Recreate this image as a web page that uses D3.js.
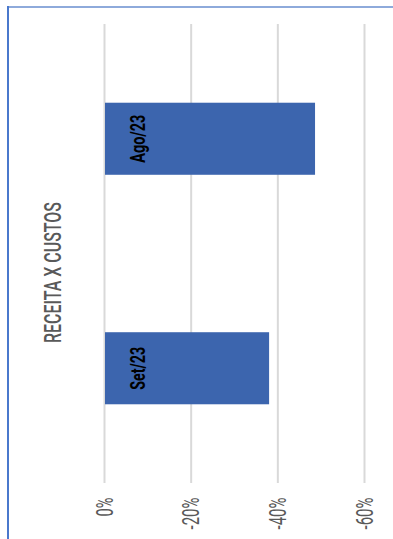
<!DOCTYPE html>
<html><head><meta charset="utf-8">
<script src="https://cdn.jsdelivr.net/npm/d3@7"></script>
<style>html,body{margin:0;padding:0;background:#fff;}svg{display:block;}</style>
</head><body>
<svg id="c" width="393" height="539"></svg>
<script>
const categories = ["Ago/23", "Set/23"];
const values = [-0.487, -0.381];
const tickValues = [0, -0.2, -0.4, -0.6];
const title = "RECEITA X CUSTOS";

(function () {
const svg = d3.select("#c");
const W = 393, H = 539;
const plotTop = 24, plotBottom = 483;

// frame lines
svg.append("line").attr("x1", 8).attr("x2", W).attr("y1", 7).attr("y2", 7)
  .attr("stroke", "#8eaadb").attr("stroke-width", 2);
svg.append("line").attr("x1", 8).attr("x2", 8).attr("y1", 6).attr("y2", H)
  .attr("stroke", "#4a78cc").attr("stroke-width", 2);

const x = d3.scaleLinear().domain([0, -0.6]).range([104, 364]);
const y = d3.scaleBand().domain(categories).range([plotTop, plotBottom])
  .paddingInner(0.686).paddingOuter(0.343);

// squeeze rotated text along its reading direction to a target length
function squeeze(sel, base, targetLen) {
  sel.each(function () {
    const t = d3.select(this);
    t.attr("transform", base);
    const len = this.getComputedTextLength();
    const L = typeof targetLen === "function" ? targetLen(t.text()) : targetLen;
    t.attr("transform", base + ` scale(${(L / len).toFixed(3)},1)`);
  });
}

const axis = d3.axisBottom(x).tickValues(tickValues)
  .tickSize(-(plotBottom - plotTop))
  .tickFormat(d => Math.round(d * 100) + "%");
const ag = svg.append("g").attr("transform", `translate(0,${plotBottom})`).call(axis);
ag.select(".domain").remove();
ag.selectAll(".tick line").attr("stroke", "#d9d9d9").attr("stroke-width", 2);
const tt = ag.selectAll(".tick text")
  .attr("x", 0).attr("y", 0).attr("dy", "0.36em")
  .attr("text-anchor", "end")
  .attr("fill", "#595959")
  .style("font-family", "Roboto, 'Liberation Sans', sans-serif")
  .style("font-size", "23px");
squeeze(tt, "translate(0,14.5) rotate(-90)", s => s.length === 2 ? 19 : 32);

// bars
svg.append("g").selectAll("rect").data(categories).join("rect")
  .attr("x", (d, i) => Math.min(x(0), x(values[i])) + 1)
  .attr("width", (d, i) => Math.abs(x(values[i]) - x(0)) - 1)
  .attr("y", d => y(d))
  .attr("height", y.bandwidth())
  .attr("fill", "#3c65ae");

// bar labels
const bl = svg.append("g").selectAll("text").data(categories).join("text")
  .attr("text-anchor", "middle")
  .attr("dy", "0.36em")
  .attr("fill", "#000")
  .style("font-family", "Roboto, 'Liberation Sans', sans-serif")
  .style("font-weight", "bold")
  .style("font-size", "21px")
  .text(d => d);
bl.each(function (d) {
  const base = `translate(${x(0) + 33.5},${y(d) + y.bandwidth() / 2}) rotate(-90)`;
  squeeze(d3.select(this), base, d.startsWith("Ago") ? 48 : 43);
});

// title
const tl = svg.append("text")
  .attr("text-anchor", "middle")
  .attr("dy", "0.36em")
  .attr("fill", "#595959")
  .style("font-family", "Roboto, 'Liberation Sans', sans-serif")
  .style("font-weight", "500")
  .style("font-size", "23px")
  .text(title);
squeeze(tl, `translate(52.5,${(202 + 343) / 2}) rotate(-90)`, 141);
})();
</script>
</body></html>
